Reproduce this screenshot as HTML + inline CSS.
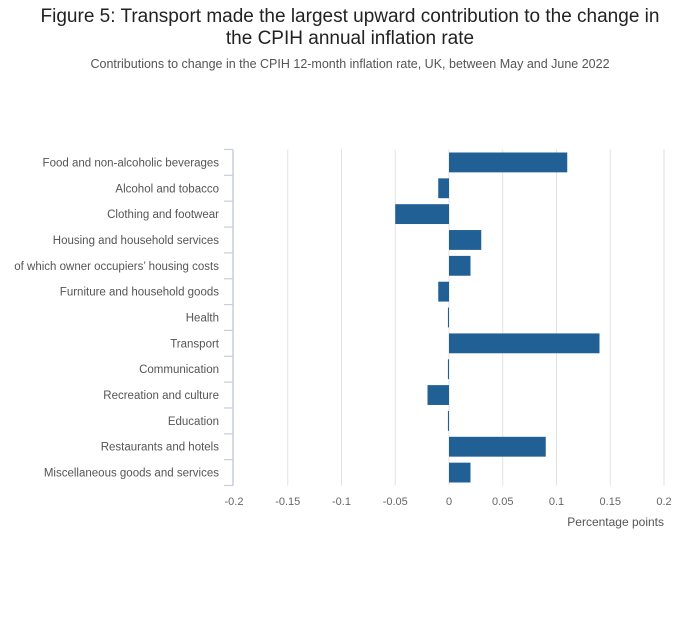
<!DOCTYPE html>
<html><head><meta charset="utf-8"><style>
body{margin:0;background:#fff;font-family:"Liberation Sans","DejaVu Sans",sans-serif;}
#wrap{position:relative;width:700px;height:635px;}
h1{position:absolute;top:6px;left:0;width:700px;margin:0;text-align:center;font-size:19px;font-weight:normal;color:#222;line-height:22px;}
.sub{position:absolute;top:57px;left:0;width:700px;text-align:center;font-size:12.5px;color:#555;}
svg text{font-family:"Liberation Sans","DejaVu Sans",sans-serif;}
</style></head><body>
<div id="wrap">
<h1>Figure 5: Transport made the largest upward contribution to the change in<br>the CPIH annual inflation rate</h1>
<div class="sub">Contributions to change in the CPIH 12-month inflation rate, UK, between May and June 2022</div>
<svg id="chart" width="700" height="635" style="position:absolute;left:0;top:0"></svg>
</div>
<script>
const categories=["Food and non-alcoholic beverages","Alcohol and tobacco","Clothing and footwear","Housing and household services","of which owner occupiers’ housing costs","Furniture and household goods","Health","Transport","Communication","Recreation and culture","Education","Restaurants and hotels","Miscellaneous goods and services"];
const values=[0.11,-0.01,-0.05,0.03,0.02,-0.01,-0.001,0.14,-0.001,-0.02,-0.001,0.09,0.02];
const ticks=[-0.2,-0.15,-0.1,-0.05,0,0.05,0.1,0.15,0.2];
const tickLabels=["-0.2","-0.15","-0.1","-0.05","0","0.05","0.1","0.15","0.2"];
const NS="http://www.w3.org/2000/svg";
const svgEl=document.getElementById('chart');
const plotX0=234,plotX1=664,plotTop=149.5,plotBot=485.5;
const band=(plotBot-plotTop)/categories.length;
function xs(v){return plotX0+(v+0.2)/0.4*(plotX1-plotX0);}
function ys(i){return plotTop+i*band;}
function mk(t,a){const e=document.createElementNS(NS,t);for(const k in a)e.setAttribute(k,a[k]);svgEl.appendChild(e);return e;}
ticks.forEach((t,i)=>{
 if(i>0){const g=mk('line',{x1:xs(t),x2:xs(t),y1:plotTop,y2:plotBot,stroke:'#e2e2e2','stroke-width':1});
 
 }
 const l=mk('text',{x:xs(t),y:505,'text-anchor':'middle','font-size':11,fill:'#666'});
 l.textContent=tickLabels[i];
 
 
});
const ax=mk('line',{x1:233,x2:233,y1:plotTop,y2:plotBot,stroke:'#c8cde0','stroke-width':1.5});


for(let i=0;i<=categories.length;i++){
 const tk=mk('line',{x1:224,x2:233,y1:ys(i),y2:ys(i),stroke:'#c8cde0','stroke-width':1.2});
 
 
}
categories.forEach((c,i)=>{
 const t=mk('text',{x:219,y:ys(i)+band/2+4,'text-anchor':'end','font-size':11.5,fill:'#555'});
 t.textContent=c;
 
 
 const v=values[i];
 const a=xs(Math.min(0,v)),b=xs(Math.max(0,v));
 const r=mk('rect',{x:a,y:ys(i)+3,width:Math.max(1,b-a),height:band-6,fill:'#206095'});
 
 
});
const xt=mk('text',{x:664,y:526,'text-anchor':'end','font-size':12,fill:'#555'});
xt.textContent='Percentage points';


</script>
</body></html>
